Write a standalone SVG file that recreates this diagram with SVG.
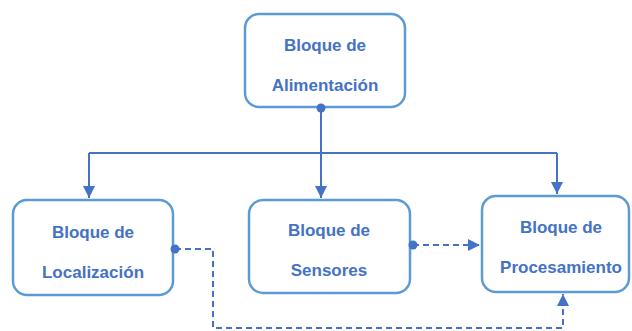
<svg xmlns="http://www.w3.org/2000/svg" width="632" height="331" viewBox="0 0 632 331">
<defs>
<style>
.box{fill:#fff;stroke:#5B9BD5;stroke-width:2.5}
.t{font-family:"Liberation Sans",Arial,sans-serif;font-weight:bold;font-size:17px;fill:#4472C4;text-anchor:middle}
.c{fill:none;stroke:#4472C4;stroke-width:2}
.d{fill:none;stroke:#4472C4;stroke-width:2;stroke-dasharray:6,4}
.dot{fill:#4472C4}
</style>
<marker id="ar" viewBox="0 0 10 10" refX="10" refY="5" markerWidth="6" markerHeight="6" orient="auto-start-reverse" markerUnits="strokeWidth">
<path d="M0,0 L10,5 L0,10 z" fill="#4472C4"/>
</marker>
</defs>
<g id="alimentacion">
<rect class="box" x="245" y="14" width="160" height="93" rx="14"/>
<text class="t" x="325" y="51">Bloque de</text>
<text class="t" x="325" y="91">Alimentación</text>
</g>
<g id="localizacion">
<rect class="box" x="13" y="200" width="160" height="95" rx="14"/>
<text class="t" x="93" y="238">Bloque de</text>
<text class="t" x="93" y="278">Localización</text>
</g>
<g id="sensores">
<rect class="box" x="249" y="200" width="161" height="93" rx="14"/>
<text class="t" x="329" y="236">Bloque de</text>
<text class="t" x="329" y="276">Sensores</text>
</g>
<g id="procesamiento">
<rect class="box" x="482" y="196" width="147" height="96" rx="14"/>
<text class="t" x="561" y="233">Bloque de</text>
<text class="t" x="561" y="273">Procesamiento</text>
</g>
<g id="connectors">
<path class="c" d="M321,108 V153"/>
<path class="c" d="M89,153 H557"/>
<path class="c" d="M89,153 V198" marker-end="url(#ar)"/>
<path class="c" d="M321,153 V198" marker-end="url(#ar)"/>
<path class="c" d="M557,153 V194" marker-end="url(#ar)"/>
<path class="d" d="M413,245 H480" marker-end="url(#ar)"/>
<path class="d" d="M175,249 H213 V328 H563 V294" marker-end="url(#ar)"/>
<circle class="dot" cx="321" cy="108" r="4.5"/>
<circle class="dot" cx="175" cy="249" r="4.5"/>
<circle class="dot" cx="413" cy="245" r="4.5"/>
</g>
</svg>
